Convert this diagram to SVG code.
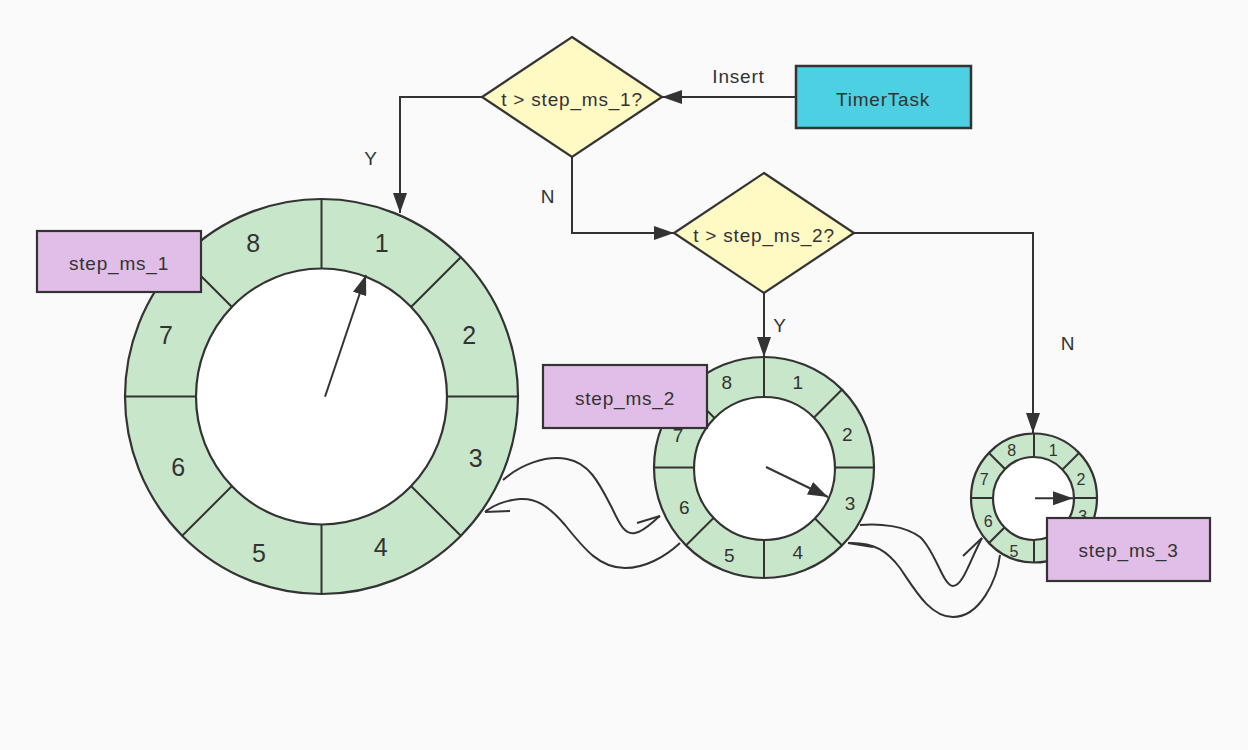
<svg xmlns="http://www.w3.org/2000/svg" width="1248" height="750" viewBox="0 0 1248 750">
<defs>
<marker id="ah" markerWidth="20" markerHeight="14" refX="20" refY="7" orient="auto" markerUnits="userSpaceOnUse"><path d="M0,0 L20,7 L0,14 Z" fill="#333"/></marker>
<style>
.ln{fill:none;stroke:#333;stroke-width:2}
.ring{fill:#c8e6c9;stroke:#333;stroke-width:2.2}
.hole{fill:#fff;stroke:#333;stroke-width:2.2}
.dv{stroke:#333;stroke-width:2}
.dia{fill:#fff9c4;stroke:#333;stroke-width:2.2}
.lav{fill:#e1bee7;stroke:#333;stroke-width:2.2}
.cy{fill:#4dd0e1;stroke:#333;stroke-width:2.5}
text{font-family:"Liberation Sans",Arial,sans-serif;fill:#333;text-anchor:middle}
.t{font-size:19px;letter-spacing:0.8px}
.n1{font-size:25px}
.n2{font-size:19px}
.n3{font-size:16px}
</style>
</defs>
<rect width="1248" height="750" fill="#fafafa"/>

<g id="wheel1">
<ellipse class="ring" cx="321.5" cy="396.5" rx="196.5" ry="197.5"/>
<line class="dv" x1="321.5" y1="199.5" x2="321.5" y2="593.5"/>
<line class="dv" x1="125" y1="396.5" x2="518" y2="396.5"/>
<line class="dv" x1="182.2" y1="257.2" x2="460.8" y2="535.8"/>
<line class="dv" x1="460.8" y1="257.2" x2="182.2" y2="535.8"/>
<ellipse class="hole" cx="321.5" cy="396.5" rx="125.5" ry="128"/>
<text class="n1" x="253.3" y="252.3">8</text>
<text class="n1" x="381.7" y="252.3">1</text>
<text class="n1" x="469.3" y="344">2</text>
<text class="n1" x="475.7" y="466.7">3</text>
<text class="n1" x="380.7" y="555.7">4</text>
<text class="n1" x="259" y="562">5</text>
<text class="n1" x="178.3" y="475.7">6</text>
<text class="n1" x="166" y="344">7</text>
<line class="ln" x1="325" y1="396.7" x2="366" y2="275" marker-end="url(#ah)"/>
</g>

<g id="wheel2">
<ellipse class="ring" cx="764" cy="467.5" rx="110" ry="110.5"/>
<line class="dv" x1="764" y1="357" x2="764" y2="578"/>
<line class="dv" x1="654" y1="467.5" x2="874" y2="467.5"/>
<line class="dv" x1="686.2" y1="389.7" x2="841.8" y2="545.3"/>
<line class="dv" x1="841.8" y1="389.7" x2="686.2" y2="545.3"/>
<ellipse class="hole" cx="764.5" cy="468.5" rx="70.5" ry="71.5"/>
<text class="n2" x="726.7" y="389">8</text>
<text class="n2" x="797.7" y="389">1</text>
<text class="n2" x="847.3" y="441">2</text>
<text class="n2" x="850" y="509.5">3</text>
<text class="n2" x="797.7" y="558.5">4</text>
<text class="n2" x="729.3" y="561.8">5</text>
<text class="n2" x="684.3" y="514">6</text>
<text class="n2" x="678" y="441.8">7</text>
<line class="ln" x1="766" y1="467" x2="828" y2="497" marker-end="url(#ah)"/>
</g>

<g id="wheel3">
<ellipse class="ring" cx="1034" cy="498" rx="63" ry="64.5"/>
<line class="dv" x1="1034" y1="433.5" x2="1034" y2="562.5"/>
<line class="dv" x1="971" y1="498" x2="1097" y2="498"/>
<line class="dv" x1="989" y1="453" x2="1079" y2="543"/>
<line class="dv" x1="1079" y1="453" x2="989" y2="543"/>
<ellipse class="hole" cx="1033.5" cy="498.5" rx="40.5" ry="41.5"/>
<text class="n3" x="1011.7" y="456.4">8</text>
<text class="n3" x="1053.3" y="456.4">1</text>
<text class="n3" x="1081" y="485">2</text>
<text class="n3" x="1082.7" y="522.4">3</text>
<text class="n3" x="1014" y="557.4">5</text>
<text class="n3" x="988.3" y="527.4">6</text>
<text class="n3" x="984.3" y="485">7</text>
<line class="ln" x1="1035" y1="498.3" x2="1073" y2="498.3" marker-end="url(#ah)"/>
</g>

<g id="step_ms_1">
<rect class="lav" x="37" y="231" width="164" height="61"/>
<text class="t" x="119" y="270">step_ms_1</text>
</g>
<g id="step_ms_2">
<rect class="lav" x="543" y="365" width="164" height="63"/>
<text class="t" x="625" y="405">step_ms_2</text>
</g>
<g id="step_ms_3">
<rect class="lav" x="1047" y="518" width="163" height="63"/>
<text class="t" x="1128.5" y="556.5">step_ms_3</text>
</g>

<g id="decision1">
<polygon class="dia" points="572,37 662,97 572,157 482,97"/>
<text class="t" x="572" y="106">t &gt; step_ms_1?</text>
</g>
<g id="decision2">
<polygon class="dia" points="764,173 854,233 764,293 674,233"/>
<text class="t" x="764" y="241.5">t &gt; step_ms_2?</text>
</g>
<g id="timertask">
<rect class="cy" x="796" y="66" width="175" height="62"/>
<text class="t" x="883" y="106">TimerTask</text>
</g>

<g id="connectors">
<path class="ln" d="M796,97 L662,97" marker-end="url(#ah)"/>
<path class="ln" d="M482,97 L400,97 L400,213" marker-end="url(#ah)"/>
<path class="ln" d="M572,157 L572,233 L674,233" marker-end="url(#ah)"/>
<path class="ln" d="M764,293 L764,357" marker-end="url(#ah)"/>
<path class="ln" d="M854,233 L1033,233 L1033,433" marker-end="url(#ah)"/>
<path class="ln" d="M503,480 C520,465 545,455 567,459 C590,463 600,485 612,508 C620,525 625,535 635,533 C645,531 652,522 660,516"/>
<path class="ln" d="M637,523 L660,516"/>
<path class="ln" d="M680,543 C665,557 645,568 625,568 C600,568 585,550 565,525 C548,505 535,498 520,499 C505,500 492,506 485,512"/>
<path class="ln" d="M510,511 L485,512"/>
<path class="ln" d="M860,525 C880,523 905,526 920,537 C935,550 943,586 953,586 C963,586 970,560 982,538"/>
<path class="ln" d="M963,556 L982,538"/>
<path class="ln" d="M1000,555 C997,580 980,617 953,617 C930,617 915,590 900,568 C888,552 875,542 848,543"/>
<path class="ln" d="M873,547 L848,543"/>
<text class="t" x="738.5" y="83">Insert</text>
<text class="t" x="371" y="165">Y</text>
<text class="t" x="548" y="203">N</text>
<text class="t" x="780" y="332">Y</text>
<text class="t" x="1068" y="350">N</text>
</g>
</svg>
